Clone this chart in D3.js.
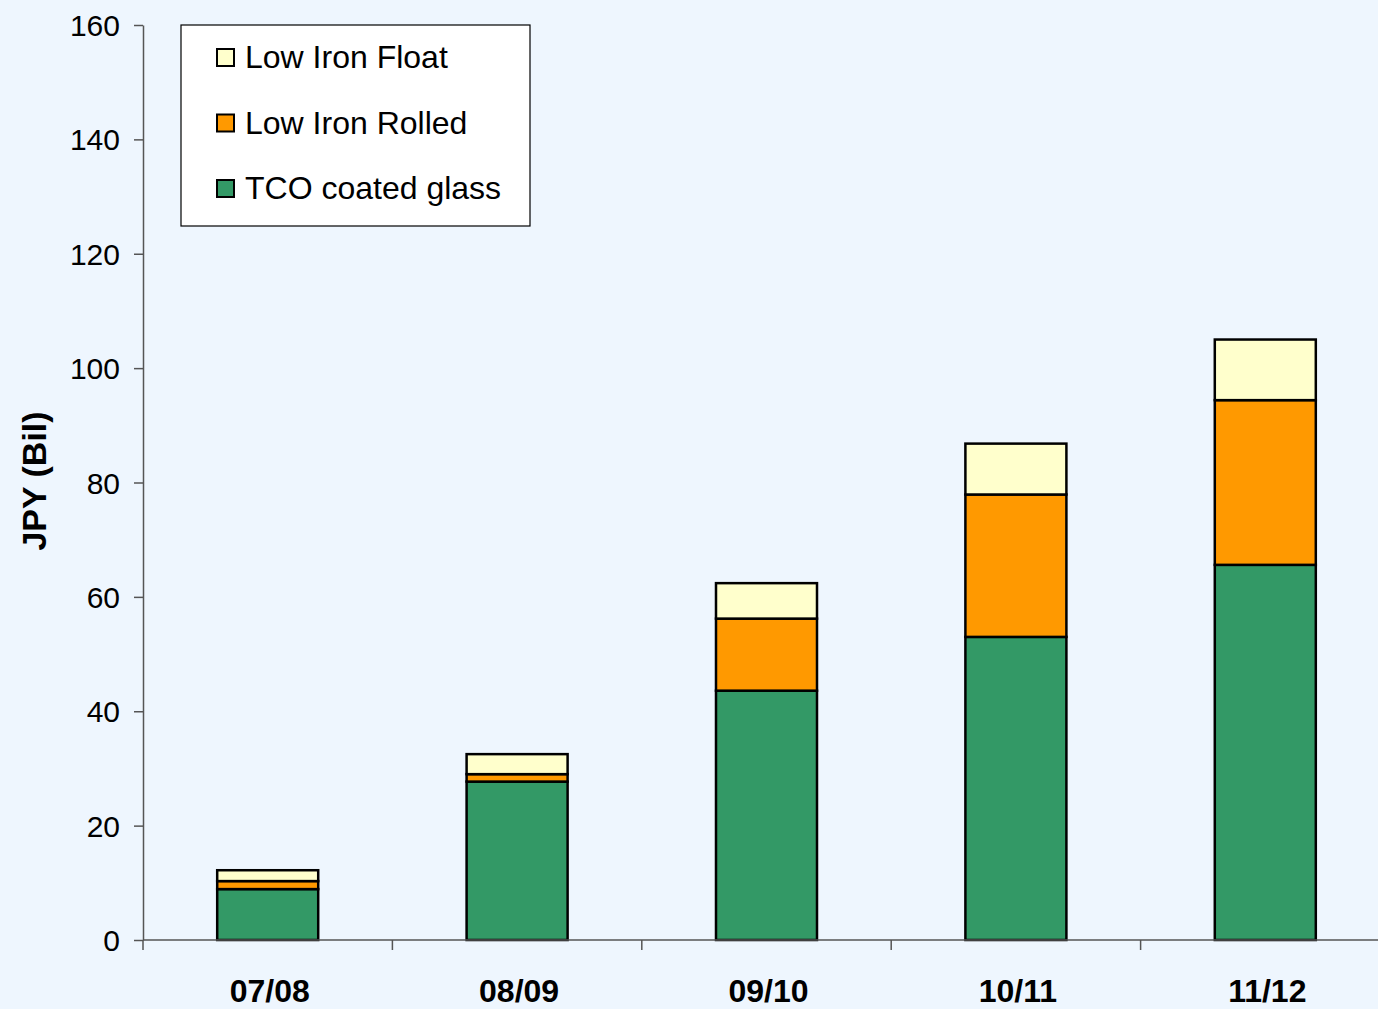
<!DOCTYPE html>
<html>
<head>
<meta charset="utf-8">
<script src="https://cdn.jsdelivr.net/npm/d3@7"></script>
<style>
  body { margin: 0; background: #eef6fe; }
  svg { display: block; font-family: "Liberation Sans", Arial, sans-serif; }
</style>
</head>
<body>
<div class="render"></div>
<script>
var years = ["07/08", "08/09", "09/10", "10/11", "11/12"];
var tco = [8.9, 27.7, 43.6, 53.0, 65.6];
var rolled = [1.4, 1.3, 12.6, 24.9, 28.8];
var float = [1.9, 3.5, 6.2, 8.9, 10.6];
var yTicks = [0, 20, 40, 60, 80, 100, 120, 140, 160];

var seriesNames = ["TCO coated glass", "Low Iron Rolled", "Low Iron Float"];
var colors = ["#339966", "#ff9900", "#ffffcc"];

var width = 1378, height = 1009;
var plotLeft = 143, plotRight = 1390, plotTop = 25, plotBottom = 940;

var rows = years.map(function(y, i) {
    return { year: y, tco: tco[i], rolled: rolled[i], float: float[i] };
});

var stack = d3.stack().keys(["tco", "rolled", "float"]);
var layers = stack(rows);

var x = d3.scaleBand().domain(years).range([plotLeft, plotRight])
    .paddingInner(0.595).paddingOuter(0.2975);
var y = d3.scaleLinear().domain([0, 160]).range([plotBottom, plotTop]);

var svg = d3.select(".render").append("svg")
    .attr("width", width).attr("height", height);

svg.append("rect").attr("width", width).attr("height", height).attr("fill", "#eef6fe");

// bars
svg.selectAll("g.layer")
    .data(layers)
    .enter().append("g")
    .attr("class", "layer")
    .attr("fill", function(d, i) { return colors[i]; })
    .selectAll("rect")
    .data(function(d) { return d; })
    .enter().append("rect")
    .attr("x", function(d) { return x(d.data.year); })
    .attr("y", function(d) { return y(d[1]); })
    .attr("width", x.bandwidth())
    .attr("height", function(d) { return y(d[0]) - y(d[1]); })
    .attr("stroke", "#000")
    .attr("stroke-width", 2.5);

// y axis
var yAxis = svg.append("g")
    .attr("transform", "translate(" + plotLeft + ",0)")
    .call(d3.axisLeft(y).tickValues(yTicks).tickSize(9).tickPadding(14).tickSizeOuter(0));
yAxis.select(".domain").attr("stroke", "#555").attr("stroke-width", 1.5);
yAxis.selectAll(".tick line").attr("stroke", "#555").attr("stroke-width", 1.5);
yAxis.selectAll(".tick text")
    .attr("font-size", 30).attr("fill", "#000")
    .attr("font-family", "Liberation Sans, Arial, sans-serif")
    .attr("dy", "0.35em");

// x axis, ticks between the categories
var xAxis = svg.append("g").attr("transform", "translate(0," + plotBottom + ")");
xAxis.append("line").attr("x1", plotLeft).attr("x2", plotRight)
    .attr("stroke", "#555").attr("stroke-width", 1.5);
var bounds = years.map(function(d) { return x(d) - x.step() * x.paddingInner() / 2; });
bounds.push(plotRight);
xAxis.selectAll("line.tick")
    .data(bounds)
    .enter().append("line")
    .attr("class", "tick")
    .attr("x1", function(d) { return d; }).attr("x2", function(d) { return d; })
    .attr("y1", 0).attr("y2", 10)
    .attr("stroke", "#555").attr("stroke-width", 1.5);
xAxis.selectAll("text")
    .data(years)
    .enter().append("text")
    .attr("x", function(d) { return x(d) + x.bandwidth() / 2 + 2; })
    .attr("y", 62)
    .attr("text-anchor", "middle")
    .attr("font-size", 32).attr("font-weight", "bold")
    .text(function(d) { return d; });

// y title
svg.append("text")
    .attr("transform", "translate(46,481) rotate(-90)")
    .attr("text-anchor", "middle")
    .attr("font-size", 34).attr("font-weight", "bold")
    .text("JPY (Bil)");

// legend
var legend = svg.append("g").attr("transform", "translate(181,25)");
legend.append("rect").attr("width", 349).attr("height", 201)
    .attr("fill", "#fff").attr("stroke", "#000").attr("stroke-width", 1.2);
var legendOrder = [2, 1, 0];
var item = legend.selectAll("g.item")
    .data(legendOrder)
    .enter().append("g")
    .attr("class", "item")
    .attr("transform", function(d, i) { return "translate(36," + (32 + i * 65.5) + ")"; });
item.append("rect")
    .attr("x", 0).attr("y", -8).attr("width", 17).attr("height", 17)
    .attr("fill", function(d) { return colors[d]; })
    .attr("stroke", "#000").attr("stroke-width", 2);
item.append("text")
    .attr("x", 28).attr("dy", "0.35em")
    .attr("font-size", 32)
    .text(function(d) { return seriesNames[d]; });
</script>
</body>
</html>
